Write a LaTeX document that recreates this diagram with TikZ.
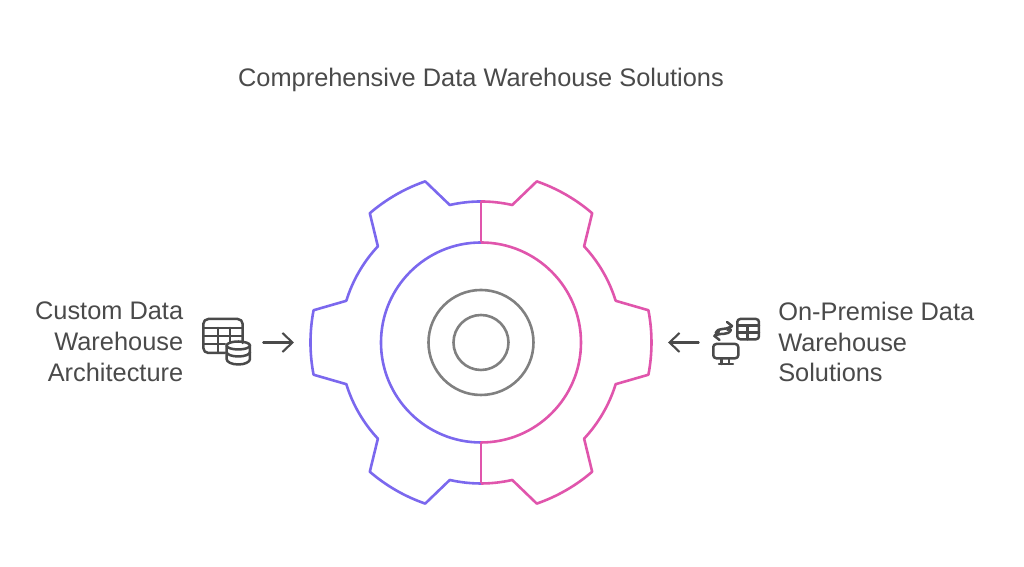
\documentclass[tikz,border=0pt]{standalone}
\usepackage{fontspec}
\setmainfont{Liberation Sans}
\usetikzlibrary{arrows.meta}
\definecolor{gearpurple}{HTML}{7B68EE}
\definecolor{gearpink}{HTML}{E055AC}
\definecolor{hubgray}{HTML}{808080}
\definecolor{inkgray}{HTML}{4A4A4A}
\tikzset{
  label text/.style={text=inkgray, font=\fontsize{7.22}{8.75}\selectfont, inner sep=0pt},
  icon line/.style={draw=inkgray, line width=0.025cm, line join=round, line cap=round},
  pointer/.style={inkgray, line width=0.021cm, line cap=round, -{Straight Barb[length=0.1cm,width=0.19cm]}}
}
\begin{document}
\begin{tikzpicture}[line width=0.026cm, line join=round]
  \useasboundingbox (-4.81,-2.245) rectangle (5.43,3.425);
  % left half is purple, right half the same path mirrored
  \foreach \side/\col in {1/gearpurple, -1/gearpink} {
    \begin{scope}[xscale=\side, draw=\col]
      \draw (90:1.41) arc[start angle=90, end angle=102.8, radius=1.41]
        -- (109.1:1.705) arc[start angle=109.1, end angle=130.7, radius=1.705]
        -- (137:1.41) arc[start angle=137, end angle=162.8, radius=1.41]
        -- (169.1:1.705) arc[start angle=169.1, end angle=190.9, radius=1.705]
        -- (197.2:1.41) arc[start angle=197.2, end angle=223, radius=1.41]
        -- (229.3:1.705) arc[start angle=229.3, end angle=250.9, radius=1.705]
        -- (257.2:1.41) arc[start angle=257.2, end angle=270, radius=1.41];
      \draw (90:1) arc[start angle=90, end angle=270, radius=1];
    \end{scope}
  }
  \draw[gearpink] (0,1) -- (0,1.41);
  \draw[gearpink] (0,-1) -- (0,-1.41);
  \draw[hubgray] (0,0) circle (0.525);
  \draw[hubgray] (0,0) circle (0.275);

  \node[label text] (title) at (0,2.625) {Comprehensive Data Warehouse Solutions};
  \node[label text, anchor=east, align=right] (customlabel) at (-2.965,0.005)
    {Custom Data\\Warehouse\\Architecture};
  \node[label text, anchor=west, align=left] (premiselabel) at (2.96,0.005)
    {On-Premise Data\\Warehouse\\Solutions};

  % table and database icon
  \draw[icon line, rounded corners=0.05cm] (-2.383,-0.005) -- (-2.383,0.235) -- (-2.777,0.235) -- (-2.777,-0.105) -- (-2.56,-0.105);
  \draw[icon line] (-2.777,0.145) -- (-2.383,0.145);
  \draw[icon line] (-2.777,0.065) -- (-2.383,0.065);
  \draw[icon line] (-2.777,-0.015) -- (-2.56,-0.015);
  \draw[icon line] (-2.63,0.145) -- (-2.63,-0.105);
  \draw[icon line] (-2.51,0.145) -- (-2.51,0.005);
  \draw[icon line] (-2.427,-0.03) ellipse (0.117 and 0.04);
  \draw[icon line] (-2.544,-0.03) -- (-2.544,-0.165) arc[start angle=180, end angle=360, x radius=0.117, y radius=0.055] -- (-2.31,-0.03);
  \draw[icon line] (-2.544,-0.095) arc[start angle=180, end angle=360, x radius=0.117, y radius=0.045];

  % monitor and table icon
  \draw[icon line, rounded corners=0.03cm] (2.563,0.235) rectangle (2.78,0.032);
  \draw[icon line] (2.563,0.168) -- (2.78,0.168);
  \draw[icon line] (2.563,0.098) -- (2.78,0.098);
  \draw[icon line] (2.667,0.168) -- (2.667,0.032);
  \draw[icon line, rounded corners=0.03cm] (2.323,-0.015) rectangle (2.573,-0.158);
  \draw[icon line] (2.407,-0.158) -- (2.407,-0.215);
  \draw[icon line] (2.48,-0.158) -- (2.48,-0.215);
  \draw[icon line] (2.38,-0.215) -- (2.52,-0.215);
  \draw[icon line] (2.347,0.095) .. controls (2.38,0.16) and (2.42,0.11) .. (2.51,0.165);
  \draw[icon line] (2.46,0.205) -- (2.51,0.165) -- (2.465,0.125);
  \draw[icon line] (2.5,0.125) .. controls (2.46,0.06) and (2.42,0.11) .. (2.335,0.065);
  \draw[icon line] (2.38,0.11) -- (2.335,0.065) -- (2.385,0.025);

  % pointers toward the gear
  \coordinate (customtail) at (-2.177,0);
  \coordinate (customhead) at (-1.87,0);
  \coordinate (premisetail) at (2.177,0);
  \coordinate (premisehead) at (1.87,0);
  \draw[pointer] (customtail) -- (customhead);
  \draw[pointer] (premisetail) -- (premisehead);
\end{tikzpicture}
\end{document}
